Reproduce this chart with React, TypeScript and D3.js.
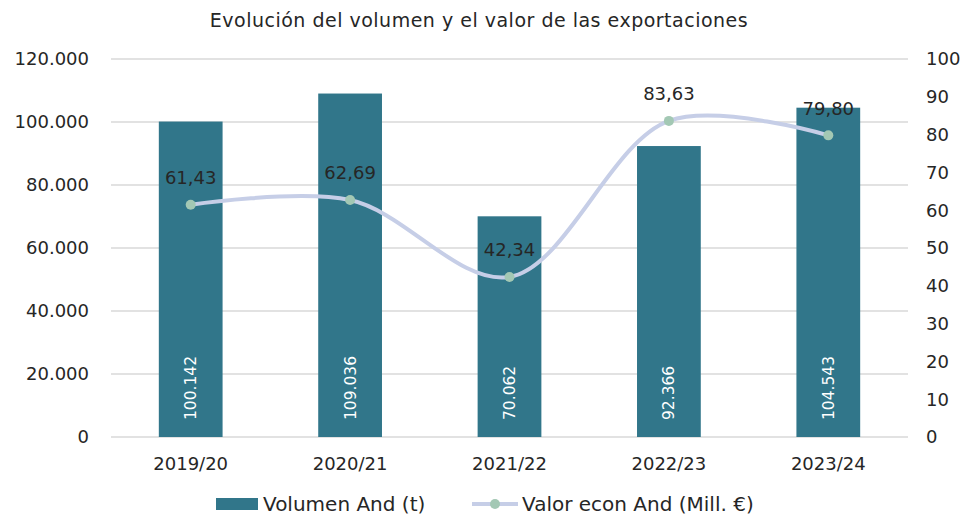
import React from 'react'
import * as d3 from 'd3'

const categories = ['2019/20', '2020/21', '2021/22', '2022/23', '2023/24']
const volumen = [100142, 109036, 70062, 92366, 104543]
const valor = [61.43, 62.69, 42.34, 83.63, 79.8]
const leftTicks = [0, 20000, 40000, 60000, 80000, 100000, 120000]
const rightTicks = [0, 10, 20, 30, 40, 50, 60, 70, 80, 90, 100]

const W = 961
const H = 517
const margin = { top: 59, right: 53, bottom: 80, left: 111 }
const FONT = "'DejaVu Sans', sans-serif"
const BAR = '#31768A'
const LINE = '#C6CEE7'
const DOT = '#A3C8B4'
const TXT = '#262626'

const fmtThousands = (v: number) => d3.format(',')(v).replace(/,/g, '.')
const fmtDecimal = (v: number) => v.toFixed(2).replace('.', ',')

const App = () => {
  const innerW = W - margin.left - margin.right
  const innerH = H - margin.top - margin.bottom

  const x = d3.scaleBand().domain(categories).range([0, innerW]).paddingInner(0.6).paddingOuter(0.3)
  const xc = (c: string) => (x(c) as number) + x.bandwidth() / 2
  const yL = d3.scaleLinear().domain([0, 120000]).range([innerH, 0])
  const yR = d3.scaleLinear().domain([0, 100]).range([innerH, 0])

  // suavizado tipo Excel
  const line = d3.line<number>()
    .x((_, i) => xc(categories[i]))
    .y((d) => yR(d))
    .curve(d3.curveCatmullRom.alpha(0.5))

  return (
    <svg width={W} height={H} style={{ display: 'block', position: 'absolute', left: 0, top: 0, fontFamily: FONT }}>
      <rect width={W} height={H} fill="#fff" />
      <text x={479} y={20} dy="0.35em" textAnchor="middle" fontSize={19} letterSpacing={0.5} fill={TXT}>
        Evolución del volumen y el valor de las exportaciones
      </text>
      <g transform={`translate(${margin.left},${margin.top})`}>
        {leftTicks.map((t) => (
          <g key={t}>
            <line x1={0} x2={innerW} y1={yL(t)} y2={yL(t)} stroke="#D9D9D9" strokeWidth={1.3} />
            <text x={-22} y={yL(t)} dy="0.35em" textAnchor="end" fontSize={18} fill={TXT}>
              {fmtThousands(t)}
            </text>
          </g>
        ))}
        {rightTicks.map((t) => (
          <text key={t} x={innerW + 18} y={yR(t)} dy="0.35em" textAnchor="start" fontSize={18} fill={TXT}>
            {t}
          </text>
        ))}
        {categories.map((c, i) => (
          <g key={c}>
            <rect x={x(c)} y={yL(volumen[i])} width={x.bandwidth()} height={innerH - yL(volumen[i])} fill={BAR} />
            <text
              transform={`translate(${xc(c)},${innerH - 17}) rotate(-90)`}
              dy="0.35em"
              textAnchor="start"
              fontSize={15.5}
              fill="#fff"
            >
              {fmtThousands(volumen[i])}
            </text>
            <text x={xc(c)} y={innerH + 27} dy="0.35em" textAnchor="middle" fontSize={18} fill={TXT}>
              {c}
            </text>
          </g>
        ))}
        <path d={line(valor) || ''} fill="none" stroke={LINE} strokeWidth={4} strokeLinecap="round" />
        {valor.map((v, i) => (
          <g key={i}>
            <circle cx={xc(categories[i])} cy={yR(v)} r={5} fill={DOT} />
            <text x={xc(categories[i])} y={yR(v) - 27} dy="0.35em" textAnchor="middle" fontSize={18} fill={TXT}>
              {fmtDecimal(v)}
            </text>
          </g>
        ))}
      </g>
      <g transform="translate(0,504)">
        <rect x={216} y={-6} width={42} height={12} fill={BAR} />
        <text x={263} y={0} dy="0.35em" fontSize={20} fill={TXT}>Volumen And (t)</text>
        <line x1={472} x2={518} y1={0} y2={0} stroke={LINE} strokeWidth={4} />
        <circle cx={495} cy={0} r={5} fill={DOT} />
        <text x={522} y={0} dy="0.35em" fontSize={20} fill={TXT}>Valor econ And (Mill. €)</text>
      </g>
    </svg>
  )
}

export default App
